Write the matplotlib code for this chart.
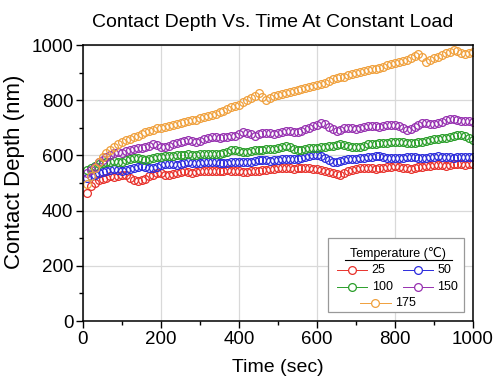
import numpy as np
import matplotlib
matplotlib.use("Agg")
import matplotlib.pyplot as plt
from matplotlib.patches import Rectangle
from matplotlib.lines import Line2D

plt.rcParams['font.family'] = ['Liberation Sans', 'DejaVu Sans']

# time axis (sec)
time = np.arange(10, 1001, 10)

temps = ['25', '50', '100', '150', '175']

depth_25 = [465, 490, 500, 510, 515, 520, 525, 522, 525, 530,
            528, 520, 512, 508, 510, 515, 525, 530, 535, 535,
            530, 528, 532, 536, 540, 542, 540, 538, 540, 542,
            545, 545, 544, 542, 543, 545, 546, 545, 543, 542,
            540, 540, 542, 543, 545, 546, 548, 550, 552, 553,
            555, 555, 553, 552, 554, 556, 555, 553, 552, 550,
            548, 545, 540, 535, 532, 530, 535, 542, 548, 552,
            555, 556, 555, 553, 552, 554, 556, 558, 560, 562,
            560, 556, 553, 552, 555, 558, 560, 562, 563, 565,
            566, 565, 563, 565, 568, 570, 568, 566, 568, 570]

depth_50 = [520, 525, 530, 535, 540, 545, 548, 550, 548, 545,
            548, 552, 556, 560, 562, 560, 555, 553, 558, 564,
            568, 570, 568, 566, 568, 572, 575, 574, 572, 573,
            576, 578, 578, 576, 574, 572, 574, 577, 578, 577,
            575, 576, 578, 580, 582, 583, 582, 580, 582, 585,
            587, 588, 587, 586, 587, 590, 594, 598, 600, 601,
            598, 590, 582, 578, 577, 580, 584, 586, 587, 588,
            590, 592, 594, 596, 597, 598, 596, 592, 590, 589,
            590, 592, 594, 595, 594, 592, 590, 592, 594, 596,
            597, 596, 594, 593, 592, 594, 596, 595, 593, 594]

depth_100 = [548, 555, 562, 568, 572, 576, 578, 580, 577, 578,
             582, 586, 589, 590, 587, 585, 588, 592, 595, 596,
             597, 598, 598, 600, 602, 603, 604, 603, 602, 604,
             606, 607, 606, 605, 607, 610, 614, 618, 620, 617,
             614, 612, 615, 618, 620, 621, 622, 623, 625, 628,
             632, 634, 630, 622, 618, 620, 624, 626, 627, 628,
             630, 632, 634, 635, 638, 640, 638, 635, 632, 630,
             632, 636, 640, 642, 643, 644, 645, 646, 647, 648,
             648, 647, 645, 644, 645, 647, 650, 654, 656, 658,
             660, 662, 664, 668, 672, 675, 674, 670, 662, 656]

depth_150 = [535, 548, 560, 575, 585, 595, 602, 608, 612, 610,
             615, 620, 624, 626, 628, 632, 636, 640, 638, 632,
             630, 636, 642, 646, 650, 653, 655, 652, 650, 654,
             660, 665, 668, 666, 664, 666, 668, 670, 672, 678,
             684, 682, 676, 672, 676, 680, 682, 680, 678, 682,
             686, 690, 688, 684, 686, 690, 695, 700, 705, 712,
             718, 714, 704, 695, 690, 694, 698, 700, 698, 696,
             698, 702, 706, 708, 705, 702, 705, 710, 712, 712,
             708, 700, 694, 696, 704, 712, 718, 716, 714, 715,
             718, 722, 728, 732, 733, 730, 726, 724, 726, 722]

depth_175 = [495, 525, 555, 578, 595, 608, 620, 630, 640, 648,
             655, 660, 666, 672, 678, 684, 690, 694, 698, 700,
             704, 708, 712, 715, 718, 722, 726, 728, 730, 734,
             738, 742, 746, 750, 756, 762, 768, 774, 778, 784,
             792, 800, 808, 816, 826, 812, 800, 808, 815, 820,
             822, 826, 830, 834, 836, 840, 844, 848, 852, 856,
             860, 864, 870, 876, 882, 884, 886, 890, 894, 898,
             902, 906, 908, 912, 915, 918, 922, 926, 930, 934,
             938, 942, 946, 952, 960, 966, 955, 940, 945, 952,
             958, 964, 970, 976, 982, 980, 970, 966, 972, 976]

series = [depth_25, depth_50, depth_100, depth_150, depth_175]
colors = ['#e8312b', '#2b2bdc', '#2a9e2a', '#9630b0', '#f0a03c']

fig = plt.figure(figsize=(5.0, 3.85), dpi=100)
ax = fig.add_axes([0.166, 0.166, 0.78, 0.717])

for vals, c in zip(series, colors):
    ax.plot(time, vals, linestyle='none', marker='o', markersize=5.6,
            markerfacecolor='none', markeredgecolor=c, markeredgewidth=0.9)

ax.set_xlim(0, 1000)
ax.set_ylim(0, 1000)
ax.set_xticks([0, 200, 400, 600, 800, 1000])
ax.set_yticks([0, 200, 400, 600, 800, 1000])
ax.set_xticks(np.arange(100, 1000, 200), minor=True)
ax.set_yticks(np.arange(100, 1000, 200), minor=True)
ax.tick_params(axis='both', which='major', direction='out', length=5,
               width=1, labelsize=13.5, pad=2)
ax.tick_params(axis='both', which='minor', direction='out', length=3, width=1)
ax.grid(True, which='major', color='#d9d9d9', linewidth=0.9)
ax.set_axisbelow(True)
for s in ax.spines.values():
    s.set_linewidth(1.1)

ax.set_xlabel('Time (sec)', fontsize=14)
ax.set_ylabel('Contact Depth (nm)', fontsize=16)
ax.xaxis.set_label_coords(0.5, -0.138)
ax.yaxis.set_label_coords(-0.148, 0.54)
ax.text(0.486, 1.081, 'Contact Depth Vs. Time At Constant Load',
        transform=ax.transAxes, ha='center', va='center', fontsize=14)

# legend drawn by hand (2 columns, last entry centred)
ax.add_patch(Rectangle((0.628, 0.033), 0.349, 0.268, transform=ax.transAxes,
                       facecolor='white', edgecolor='#999999', linewidth=0.9,
                       zorder=5))
ax.text(0.808, 0.246, 'Temperature (℃)', transform=ax.transAxes,
        ha='center', va='center', fontsize=9, zorder=6)
ax.add_line(Line2D([0.672, 0.946], [0.222, 0.222], transform=ax.transAxes,
                   color='black', linewidth=0.8, zorder=6))

slots = [(0.651, 0.728, 0.185), (0.821, 0.897, 0.185),
         (0.651, 0.728, 0.124), (0.821, 0.897, 0.124),
         (0.710, 0.789, 0.064)]
for (x0, x1, yy), c, lab in zip(slots, colors, temps):
    ax.add_line(Line2D([x0, x1], [yy, yy], transform=ax.transAxes,
                       color=c, linewidth=0.7, zorder=6))
    ax.add_line(Line2D([(x0 + x1) / 2], [yy], transform=ax.transAxes,
                       marker='o', markersize=5.6, markerfacecolor='white',
                       markeredgecolor=c, markeredgewidth=0.9, zorder=7))
    ax.text(x1 + 0.012, yy, lab, transform=ax.transAxes, ha='left',
            va='center', fontsize=9, zorder=6)

fig.savefig('out.png', dpi=100)
